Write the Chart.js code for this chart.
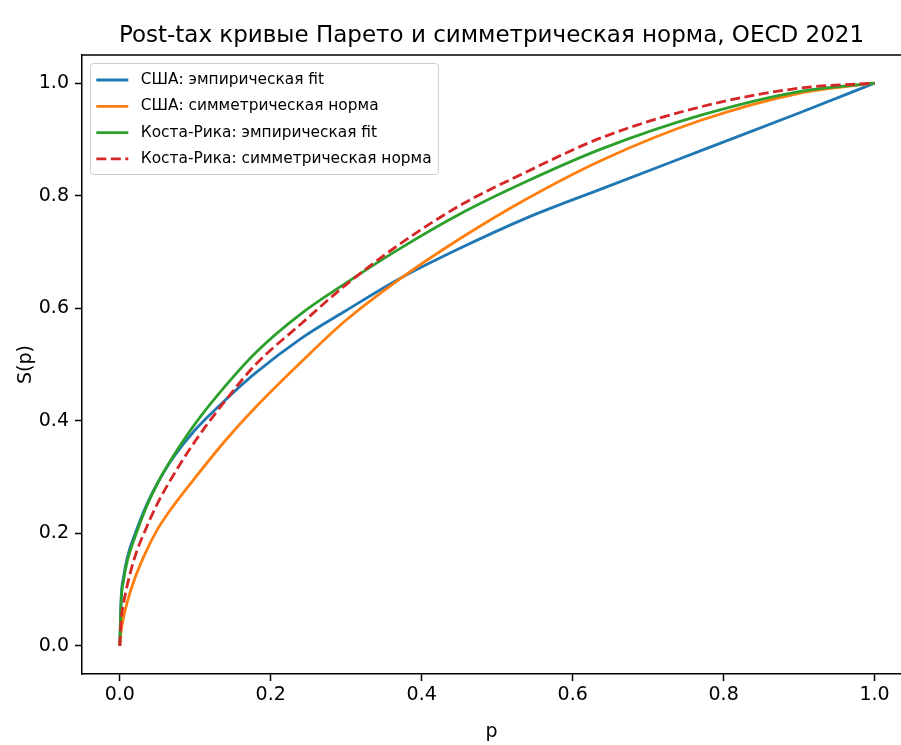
<!DOCTYPE html>
<html>
<head>
<meta charset="utf-8">
<script src="https://cdn.jsdelivr.net/npm/chart.js@4.4.1/dist/chart.umd.min.js"></script>
<style>
  html, body { margin: 0; padding: 0; background: #fff; }
  #wrap { width: 901px; height: 745px; }
</style>
</head>
<body>
<div id="wrap"><canvas id="paretoChart" width="901" height="745"></canvas></div>
<script>
// share of population p (x axis)
const pValues = [0, 0.002, 0.005, 0.01, 0.02, 0.035, 0.05, 0.07, 0.1, 0.14, 0.18, 0.24, 0.3, 0.37, 0.45, 0.54, 0.64, 0.77, 0.9, 1.0];

// S(p) values
const usaEmpirical   = [0, 0.088, 0.122, 0.157, 0.198, 0.249, 0.289, 0.333, 0.384, 0.437, 0.485, 0.546, 0.596, 0.652, 0.706, 0.761, 0.813, 0.88, 0.947, 1.0];
const usaSymmetric   = [0, 0.028, 0.05, 0.078, 0.12, 0.168, 0.207, 0.247, 0.299, 0.365, 0.424, 0.504, 0.579, 0.651, 0.723, 0.795, 0.864, 0.934, 0.982, 1.0];
const costaEmpirical = [0, 0.082, 0.116, 0.151, 0.193, 0.246, 0.289, 0.335, 0.395, 0.462, 0.521, 0.59, 0.645, 0.705, 0.767, 0.826, 0.884, 0.943, 0.985, 1.0];
const costaSymmetric = [0, 0.048, 0.075, 0.108, 0.158, 0.209, 0.253, 0.301, 0.364, 0.436, 0.5, 0.572, 0.642, 0.713, 0.782, 0.843, 0.904, 0.958, 0.991, 1.0];

const seriesLabels = [
    'США: эмпирическая fit',
    'США: симметрическая норма',
    'Коста-Рика: эмпирическая fit',
    'Коста-Рика: симметрическая норма'
];
const tickValues = [0, 0.2, 0.4, 0.6, 0.8, 1.0];

const FONT = "'DejaVu Sans', 'Liberation Sans', sans-serif";

function toPoints(values) {
    return pValues.map((p, i) => ({ x: p, y: values[i] }));
}

function makeLine(label, values, color, order, dash) {
    return {
        label: label,
        data: toPoints(values),
        borderColor: color,
        backgroundColor: color,
        borderWidth: 2.8,
        borderDash: dash || [],
        pointRadius: 0,
        cubicInterpolationMode: 'monotone',
        fill: false,
        order: order
    };
}

// matplotlib-like legend box in the upper left corner + top spine
const legendBoxPlugin = {
    id: 'legendBoxPlugin',
    afterDatasetsDraw(chart) {
        const ctx = chart.ctx;
        const area = chart.chartArea;
        const fontSize = 15.4;
        const rowStep = 26.3;
        const left = area.left + 8;
        const top = area.top + 8;
        const pad = 6.3;
        const handleLen = 32;
        const textGap = 12.4;

        ctx.save();
        ctx.font = fontSize + 'px ' + FONT;
        let maxText = 0;
        seriesLabels.forEach(t => { maxText = Math.max(maxText, ctx.measureText(t).width); });
        const width = pad + handleLen + textGap + maxText + pad;
        const height = 111;

        ctx.beginPath();
        ctx.roundRect(left + 0.5, top + 0.5, width, height, 3);
        ctx.fillStyle = 'rgba(255,255,255,0.8)';
        ctx.fill();
        ctx.strokeStyle = '#cccccc';
        ctx.lineWidth = 1;
        ctx.stroke();

        // draw in dataset order (not drawing order)
        chart.data.datasets.forEach((ds, i) => {
            const cy = top + 17 + i * rowStep;
            const hx = left + pad;
            ctx.beginPath();
            ctx.setLineDash(ds.borderDash || []);
            ctx.strokeStyle = ds.borderColor;
            ctx.lineWidth = ds.borderWidth;
            ctx.moveTo(hx, cy);
            ctx.lineTo(hx + handleLen, cy);
            ctx.stroke();
            ctx.setLineDash([]);
            ctx.fillStyle = '#000';
            ctx.textBaseline = 'middle';
            ctx.textAlign = 'left';
            ctx.fillText(ds.label, hx + handleLen + textGap, cy);
        });

        // top spine
        ctx.strokeStyle = '#000';
        ctx.lineWidth = 1.5;
        ctx.beginPath();
        ctx.moveTo(area.left, area.top);
        ctx.lineTo(area.right, area.top);
        ctx.stroke();
        ctx.restore();
    }
};

const ctx = document.getElementById('paretoChart').getContext('2d');
const chart = new Chart(ctx, {
    type: 'line',
    data: {
        datasets: [
            makeLine(seriesLabels[0], usaEmpirical, '#1f77b4', 3),
            makeLine(seriesLabels[1], usaSymmetric, '#ff7f0e', 2),
            makeLine(seriesLabels[2], costaEmpirical, '#2ca02c', 1),
            makeLine(seriesLabels[3], costaSymmetric, '#d62728', 0, [10, 4.5])
        ]
    },
    options: {
        responsive: false,
        animation: false,
        devicePixelRatio: 1,
        layout: { padding: { left: 0, right: 0, top: 0, bottom: 0 } },
        plugins: {
            tooltip: { enabled: false },
            legend: { display: false },
            title: {
                display: true,
                text: 'Post-tax кривые Парето и симметрическая норма, OECD 2021',
                color: '#000',
                fullSize: false,
                font: { family: FONT, size: 23, weight: 'normal' },
                padding: { top: 22, bottom: 5.4 }
            }
        },
        scales: {
            x: {
                type: 'linear',
                min: -0.05,
                max: 1.035,
                afterBuildTicks: (scale) => { scale.ticks = tickValues.map(v => ({ value: v })); },
                afterFit: (scale) => { scale.height = 71; },
                grid: { display: true, drawOnChartArea: false, drawTicks: true, tickLength: 7, tickWidth: 1.5, tickColor: '#000' },
                border: { display: true, color: '#000', width: 1.5 },
                ticks: {
                    color: '#000',
                    padding: 3,
                    maxRotation: 0,
                    font: { family: FONT, size: 19 },
                    callback: (v) => Number(v).toFixed(1)
                },
                title: {
                    display: true,
                    text: 'p',
                    color: '#000',
                    font: { family: FONT, size: 19 },
                    padding: { top: 0, bottom: 2 }
                }
            },
            y: {
                type: 'linear',
                min: -0.05,
                max: 1.05,
                afterBuildTicks: (scale) => { scale.ticks = tickValues.map(v => ({ value: v })); },
                afterFit: (scale) => { scale.width = 82; },
                grid: { display: true, drawOnChartArea: false, drawTicks: true, tickLength: 7, tickWidth: 1.5, tickColor: '#000' },
                border: { display: true, color: '#000', width: 1.5 },
                ticks: {
                    color: '#000',
                    padding: 6,
                    font: { family: FONT, size: 19 },
                    callback: (v) => Number(v).toFixed(1)
                },
                title: {
                    display: true,
                    text: 'S(p)',
                    color: '#000',
                    font: { family: FONT, size: 19 },
                    padding: { top: 15, bottom: 0 }
                }
            }
        }
    },
    plugins: [legendBoxPlugin]
});
</script>
</body>
</html>
